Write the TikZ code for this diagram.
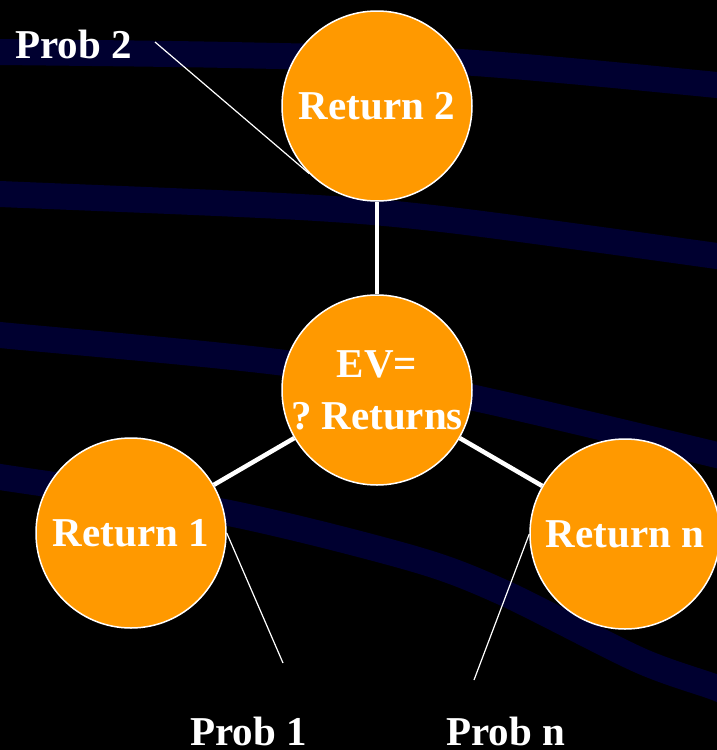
\documentclass[tikz,border=0pt]{standalone}
\usepackage{fontspec}
\setmainfont{Liberation Serif}
\definecolor{retorange}{RGB}{255,153,0}
\definecolor{bandnavy}{RGB}{0,0,48}

\begin{document}
\begin{tikzpicture}[
x=1pt, y=-1pt,
ret/.style = {
	circle,
	fill=retorange,
	draw=white,
	line width=1.5pt,
	minimum size=190pt,
	inner sep=0pt,
	align=center,
	text=white,
	font=\fontsize{41}{52}\selectfont\bfseries
	},
prob/.style = {
	anchor=base west,
	inner sep=0pt,
	text=white,
	font=\fontsize{41}{52}\selectfont\bfseries
	},
band/.style = {
	bandnavy,
	line width=26pt
	},
link/.style = {
	white,
	line width=4.5pt
	},
probLine/.style = {
	white,
	line width=1.2pt
	}
]

% BACKGROUND
\fill [black] (0,0) rectangle (717,750);
\useasboundingbox (0,0) rectangle (717,750);
\begin{scope}
\clip (0,0) rectangle (717,750);
\draw [band] plot [smooth] coordinates {(-20,52) (0,52) (230,55) (460,62) (717,85) (740,89)};
\draw [band] plot [smooth] coordinates {(-20,193) (0,194) (300,207) (450,220) (717,256) (740,260)};
\draw [band] plot [smooth] coordinates {(-20,333) (0,335) (285,363) (470,397) (717,455) (740,462)};
\draw [band] plot [smooth] coordinates {(-20,474) (0,477) (224,512) (411,558) (502,592) (639,660) (717,688) (740,700)};
\end{scope}

% RETURN NODES
\node [ret] (ret2) at (377,106) {Return 2};
\node [ret] (ev) at (377,390) {EV=\\?\ Returns};
\node [ret] (ret1) at (131,533) {Return 1};
\node [ret] (retN) at (625,534) {Return n};

% PROB LABELS
\node [prob] (prob2) at (15,58) {Prob 2};
\node [prob] (prob1) at (190,745) {Prob 1};
\node [prob] (probN) at (446,745) {Prob n};
\coordinate (tip2) at (155,42);
\coordinate (tip1) at (283,663);
\coordinate (tipN) at (474,680);

% PATHS
\path [link] (ret2) edge (ev) (ev) edge (ret1) (ev) edge (retN);
\draw [probLine] (tip2) -- (ret2.225);
\draw [probLine] (ret1.east) -- (tip1);
\draw [probLine] (retN.west) -- (tipN);
\end{tikzpicture}
\end{document}
